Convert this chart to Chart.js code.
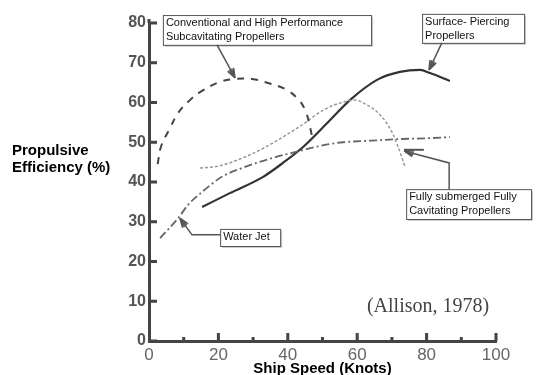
<!DOCTYPE html>
<html>
<head>
<meta charset="utf-8">
<script src="https://cdn.jsdelivr.net/npm/chart.js@4.4.1/dist/chart.umd.min.js"></script>
<style>
html,body{margin:0;padding:0;background:#fff;}
#wrap{width:536px;height:375px;}
</style>
</head>
<body>
<div id="wrap"><canvas id="chart" width="536" height="375"></canvas></div>
<script>

const xTicks = [0,20,40,60,80,100];
const yTicks = [0,10,20,30,40,50,60,70,80];

const convX = [2.5,3.5,6.1,8.4,11.8,14.7,19.6,24.2,29.7,34.3,39.2,42.7,45.0,46.4,47.3];
const convY = [44.5,49.0,53.6,57.4,60.6,62.6,64.9,65.9,65.9,64.9,63.4,61.1,58.1,53.8,50.1];

const jetX = [3.2,8.4,11.2,15.3,21.0,27.7,35.4,42.0,50,56,64,72,80,86.7];
const jetY = [25.9,30.9,34.2,37.5,41.3,43.8,46.0,47.5,49.2,50.0,50.4,50.8,51.0,51.3];

const subX = [14.7,20,27.7,33,37.2,43.5,50.5,55.9,59.4,62.8,66.6,70.0,71.8,73.8];
const subY = [43.5,44.0,46.3,48.5,50.6,54.0,58.2,60.1,60.6,59.4,56.9,52.6,48.8,43.8];

const surfX = [15.3,23.3,32.9,38.6,44.4,52.2,57.9,65.7,72.3,78.1,81.0,86.7];
const surfY = [33.7,37.2,41.3,44.8,48.8,55.6,60.6,65.7,67.7,68.2,67.4,65.4];

const labels = [
{lines:["Conventional and High Performance","Subcavitating Propellers"],box:[4.0,82.0,64.0,74.5],path:[[19.6,74.5],[24.8,66.2]]},
{lines:["Surface- Piercing","Propellers"],box:[78.7,82.3,108.1,75.0],path:[[84.4,75.0],[80.7,68.2]]},
{lines:["Water Jet"],box:[20.5,28.2,37.8,23.9],path:[[20.5,26.7],[12.4,26.7],[8.9,30.9]]},
{lines:["Fully submerged Fully","Cavitating Propellers"],box:[74.1,38.2,110.1,30.7],path:[[86.5,38.2],[86.5,44.8],[73.5,47.8]]}
];

function toPoints(xs,ys){
return xs.map((x,i)=>({x:x,y:ys[i]}));
}

function arrowHead(ctx,x1,y1,x2,y2){
const a = Math.atan2(y2-y1,x2-x1);
const len = 10;
ctx.beginPath();
[-0.35,-0.15,0.15,0.35].forEach(d=>{
ctx.moveTo(x2,y2);
ctx.lineTo(x2-len*Math.cos(a+d),y2-len*Math.sin(a+d));
});
ctx.stroke();
}

const decor = {
id:"decor",
beforeDraw(chart){
const ctx = chart.ctx;
ctx.save();
ctx.fillStyle = "#fff";
ctx.fillRect(0,0,chart.width,chart.height);
ctx.restore();
},
afterDraw(chart){
const ctx = chart.ctx;
const xs = chart.scales.x;
const ys = chart.scales.y;
const area = chart.chartArea;
ctx.save();

// axis ticks drawn inside the plot
ctx.strokeStyle = "#444";
ctx.lineWidth = 3;
ctx.beginPath();
ctx.moveTo(area.left,area.top);
ctx.lineTo(area.left,area.top-4);
yTicks.forEach(v=>{
const py = ys.getPixelForValue(v);
ctx.moveTo(area.left,py);
ctx.lineTo(area.left+8,py);
});
for(let v=10;v<=100;v+=10){
const px = xs.getPixelForValue(v);
const len = v%20===0 ? 8 : 4;
ctx.moveTo(px,area.bottom);
ctx.lineTo(px,area.bottom-len);
}
ctx.stroke();

// callout boxes
ctx.font = "11px 'Liberation Sans', Arial, sans-serif";
ctx.textBaseline = "middle";
labels.forEach(l=>{
const x1 = xs.getPixelForValue(l.box[0]);
const y1 = ys.getPixelForValue(l.box[1]);
const x2 = xs.getPixelForValue(l.box[2]);
const y2 = ys.getPixelForValue(l.box[3]);
ctx.fillStyle = "#cfcfcf";
ctx.fillRect(x1+2,y1+2,x2-x1,y2-y1);
ctx.fillStyle = "#fff";
ctx.fillRect(x1,y1,x2-x1,y2-y1);
ctx.strokeStyle = "#555";
ctx.lineWidth = 1;
ctx.strokeRect(x1+0.5,y1+0.5,x2-x1,y2-y1);
ctx.fillStyle = "#111";
l.lines.forEach((t,i)=>{
ctx.fillText(t,x1+3,y1+8+i*14);
});
const pts = l.path.map(p=>[xs.getPixelForValue(p[0]),ys.getPixelForValue(p[1])]);
ctx.strokeStyle = "#555";
ctx.lineWidth = 1.5;
ctx.beginPath();
pts.forEach((p,i)=>{
if(i===0) ctx.moveTo(p[0],p[1]); else ctx.lineTo(p[0],p[1]);
});
ctx.stroke();
const n = pts.length;
arrowHead(ctx,pts[n-2][0],pts[n-2][1],pts[n-1][0],pts[n-1][1]);
});

// short bar near the cavitating propellers arrow
ctx.beginPath();
ctx.lineWidth = 2;
ctx.moveTo(xs.getPixelForValue(73.5),ys.getPixelForValue(48.1));
ctx.lineTo(xs.getPixelForValue(79.2),ys.getPixelForValue(48.1));
ctx.stroke();

ctx.fillStyle = "#444";
ctx.font = "20px 'Liberation Serif', 'Times New Roman', serif";
ctx.textAlign = "left";
ctx.fillText("(Allison, 1978)",xs.getPixelForValue(62.8),ys.getPixelForValue(8.6));

ctx.fillStyle = "#000";
ctx.font = "bold 15px 'Liberation Sans', Arial, sans-serif";
ctx.fillText("Propulsive",12,151);
ctx.fillText("Efficiency (%)",12,168);
ctx.textAlign = "center";
ctx.fillText("Ship Speed (Knots)",(area.left+area.right)/2,369);

ctx.restore();
}
};

new Chart(
document.getElementById("chart"),
{
type:"scatter",
data:{
datasets:[
{
label:"Conventional and High Performance Subcavitating Propellers",
data:toPoints(convX,convY),
showLine:true,
borderColor:"#444",
borderWidth:2,
borderDash:[7,7],
pointRadius:0,
tension:0.4
},
{
label:"Water Jet",
data:toPoints(jetX,jetY),
showLine:true,
borderColor:"#666",
borderWidth:1.8,
borderDash:[8,3,2,3],
pointRadius:0,
cubicInterpolationMode:"monotone"
},
{
label:"Fully submerged Fully Cavitating Propellers",
data:toPoints(subX,subY),
showLine:true,
borderColor:"#999",
borderWidth:1.5,
borderDash:[3,2],
pointRadius:0,
cubicInterpolationMode:"monotone"
},
{
label:"Surface- Piercing Propellers",
data:toPoints(surfX,surfY),
showLine:true,
borderColor:"#333",
borderWidth:2.2,
pointRadius:0,
cubicInterpolationMode:"monotone"
}
]
},
options:{
responsive:false,
animation:false,
layout:{padding:{left:0,top:23,right:40,bottom:0}},
plugins:{legend:{display:false},tooltip:{enabled:false}},
scales:{
x:{
type:"linear",
min:0,
max:100,
afterBuildTicks(scale){ scale.ticks = xTicks.map(v=>({value:v})); },
afterFit(scale){ scale.height = 34; },
grid:{display:false},
border:{display:true,color:"#444",width:3},
ticks:{
color:"#666",
padding:-4,
font:{family:"'Liberation Sans', Arial, sans-serif",size:17}
}
},
y:{
type:"linear",
min:0,
max:80,
afterBuildTicks(scale){ scale.ticks = yTicks.map(v=>({value:v})); },
afterFit(scale){ scale.width = 149; },
grid:{display:false},
border:{display:true,color:"#444",width:3},
ticks:{
color:"#555",
padding:-5,
font:{family:"'Liberation Sans', Arial, sans-serif",size:16,weight:"bold"}
}
}
}
},
plugins:[decor]
}
);

</script>
</body>
</html>
